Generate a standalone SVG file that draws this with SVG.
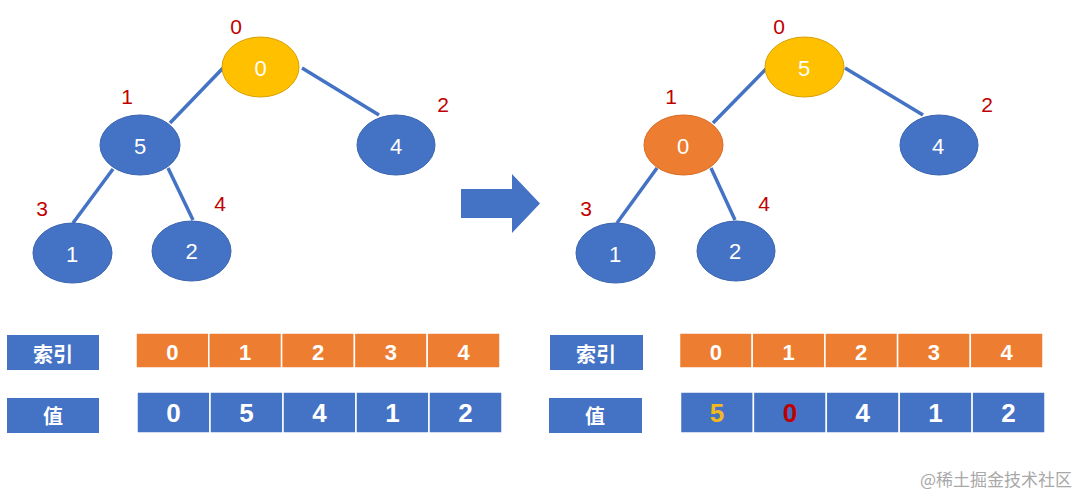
<svg xmlns="http://www.w3.org/2000/svg" width="1080" height="493" viewBox="0 0 1080 493">
<style>
.bl{fill:#4472C4;stroke:#3A65B0;stroke-width:1}
.ye{fill:#FFC000;stroke:#D9A000;stroke-width:1}
.or{fill:#ED7D31;stroke:#D96A20;stroke-width:1}
.nt{font-family:"Liberation Sans","Noto Sans",sans-serif;font-size:22px;fill:#fff;text-anchor:middle;dominant-baseline:central}
.lb{font-family:"Liberation Sans","Noto Sans",sans-serif;font-size:21px;fill:#C00000;text-anchor:middle;dominant-baseline:central}
.edge{stroke:#4472C4;stroke-width:3.5;fill:none}
.ic{fill:#ED7D31;stroke:#fff;stroke-width:1.5}
.vc{fill:#4472C4;stroke:#fff;stroke-width:1.5}
.hd{fill:#4472C4}
.tt{font-family:"Liberation Sans","Noto Sans",sans-serif;font-weight:bold;font-size:22px;fill:#fff;text-anchor:middle;dominant-baseline:central}
.tv{font-family:"Liberation Sans","Noto Sans",sans-serif;font-weight:bold;font-size:26px;fill:#fff;text-anchor:middle;dominant-baseline:central}
.cj{font-family:"Noto Sans CJK SC",sans-serif;font-weight:bold;font-size:20px;fill:#fff;text-anchor:middle;dominant-baseline:central}
</style>
<rect width="1080" height="493" fill="#fff"/>
<g id="connectors">
<line class="edge" x1="223" y1="68" x2="170" y2="123"/>
<line class="edge" x1="302" y1="68" x2="379" y2="115"/>
<line class="edge" x1="113" y1="169" x2="73" y2="223"/>
<line class="edge" x1="168" y1="168" x2="193" y2="220"/>
<line class="edge" x1="767" y1="68" x2="713" y2="123"/>
<line class="edge" x1="845" y1="68" x2="923" y2="115"/>
<line class="edge" x1="657" y1="168" x2="617" y2="223"/>
<line class="edge" x1="711" y1="168" x2="735" y2="220"/>
</g>
<g id="L0"><ellipse class="ye" cx="260.5" cy="67" rx="38.5" ry="30"/><text class="nt" x="260.5" y="68">0</text><text class="lb" x="236" y="26">0</text></g>
<g id="L1"><ellipse class="bl" cx="140" cy="145" rx="40" ry="30"/><text class="nt" x="140" y="146">5</text><text class="lb" x="127" y="96">1</text></g>
<g id="L2"><ellipse class="bl" cx="396" cy="145" rx="39" ry="30"/><text class="nt" x="396" y="146">4</text><text class="lb" x="443" y="104">2</text></g>
<g id="L3"><ellipse class="bl" cx="72.5" cy="253" rx="39.5" ry="30"/><text class="nt" x="72" y="254">1</text><text class="lb" x="42" y="208">3</text></g>
<g id="L4"><ellipse class="bl" cx="191.5" cy="251" rx="39.5" ry="30"/><text class="nt" x="191.5" y="251">2</text><text class="lb" x="220" y="203">4</text></g>
<g id="R0"><ellipse class="ye" cx="804.5" cy="67" rx="39.5" ry="30"/><text class="nt" x="804" y="68">5</text><text class="lb" x="779" y="26">0</text></g>
<g id="R1"><ellipse class="or" cx="683.5" cy="145" rx="39.5" ry="30"/><text class="nt" x="683" y="146">0</text><text class="lb" x="671" y="96">1</text></g>
<g id="R2"><ellipse class="bl" cx="939" cy="145" rx="39" ry="30"/><text class="nt" x="938" y="146">4</text><text class="lb" x="987" y="104">2</text></g>
<g id="R3"><ellipse class="bl" cx="615.5" cy="253" rx="39.5" ry="30"/><text class="nt" x="615" y="254">1</text><text class="lb" x="586" y="208">3</text></g>
<g id="R4"><ellipse class="bl" cx="736" cy="251" rx="39" ry="30"/><text class="nt" x="735" y="251">2</text><text class="lb" x="764" y="203">4</text></g>
<g id="arrow"><polygon fill="#4472C4" points="461,189 512,189 512,174 540,203.5 512,233 512,218 461,218"/></g>
<g id="left-table">
<rect class="hd" x="7" y="335" width="92" height="35"/><text class="cj" x="53" y="353">索引</text>
<rect class="hd" x="7" y="398" width="92" height="35"/><text class="cj" x="53" y="415">值</text>
<rect class="ic" x="136" y="333" width="72.8" height="35"/>
<rect class="ic" x="208.8" y="333" width="72.8" height="35"/>
<rect class="ic" x="281.6" y="333" width="72.8" height="35"/>
<rect class="ic" x="354.4" y="333" width="72.8" height="35"/>
<rect class="ic" x="427.2" y="333" width="72.8" height="35"/>
<text class="tt" x="172.4" y="352">0</text><text class="tt" x="245.2" y="352">1</text><text class="tt" x="318" y="352">2</text><text class="tt" x="390.8" y="352">3</text><text class="tt" x="463.6" y="352">4</text>
<rect class="vc" x="137" y="392" width="73" height="41"/>
<rect class="vc" x="210" y="392" width="73" height="41"/>
<rect class="vc" x="283" y="392" width="73" height="41"/>
<rect class="vc" x="356" y="392" width="73" height="41"/>
<rect class="vc" x="429" y="392" width="73" height="41"/>
<text class="tv" x="173.5" y="413">0</text><text class="tv" x="246.5" y="413">5</text><text class="tv" x="319.5" y="413">4</text><text class="tv" x="392.5" y="413">1</text><text class="tv" x="465.5" y="413">2</text>
</g>
<g id="right-table">
<rect class="hd" x="550" y="335" width="93" height="35"/><text class="cj" x="596" y="353">索引</text>
<rect class="hd" x="549" y="398" width="93" height="35"/><text class="cj" x="595" y="415">值</text>
<rect class="ic" x="679.5" y="333" width="72.7" height="35"/>
<rect class="ic" x="752.2" y="333" width="72.7" height="35"/>
<rect class="ic" x="824.9" y="333" width="72.7" height="35"/>
<rect class="ic" x="897.6" y="333" width="72.7" height="35"/>
<rect class="ic" x="970.3" y="333" width="72.7" height="35"/>
<text class="tt" x="715.8" y="352">0</text><text class="tt" x="788.5" y="352">1</text><text class="tt" x="861.2" y="352">2</text><text class="tt" x="933.9" y="352">3</text><text class="tt" x="1006.6" y="352">4</text>
<rect class="vc" x="680.5" y="392" width="72.9" height="41"/>
<rect class="vc" x="753.4" y="392" width="72.9" height="41"/>
<rect class="vc" x="826.3" y="392" width="72.9" height="41"/>
<rect class="vc" x="899.2" y="392" width="72.9" height="41"/>
<rect class="vc" x="972.1" y="392" width="72.9" height="41"/>
<text class="tv" x="717" y="413" style="fill:#F2B81C">5</text><text class="tv" x="790" y="413" style="fill:#C00000">0</text><text class="tv" x="862.7" y="413">4</text><text class="tv" x="935.6" y="413">1</text><text class="tv" x="1008.5" y="413">2</text>
</g>
<text x="1072" y="478" text-anchor="end" dominant-baseline="central" style="font-family:'Noto Sans CJK SC',sans-serif;font-size:17px;fill:#A8A8A8">@稀土掘金技术社区</text>
</svg>
